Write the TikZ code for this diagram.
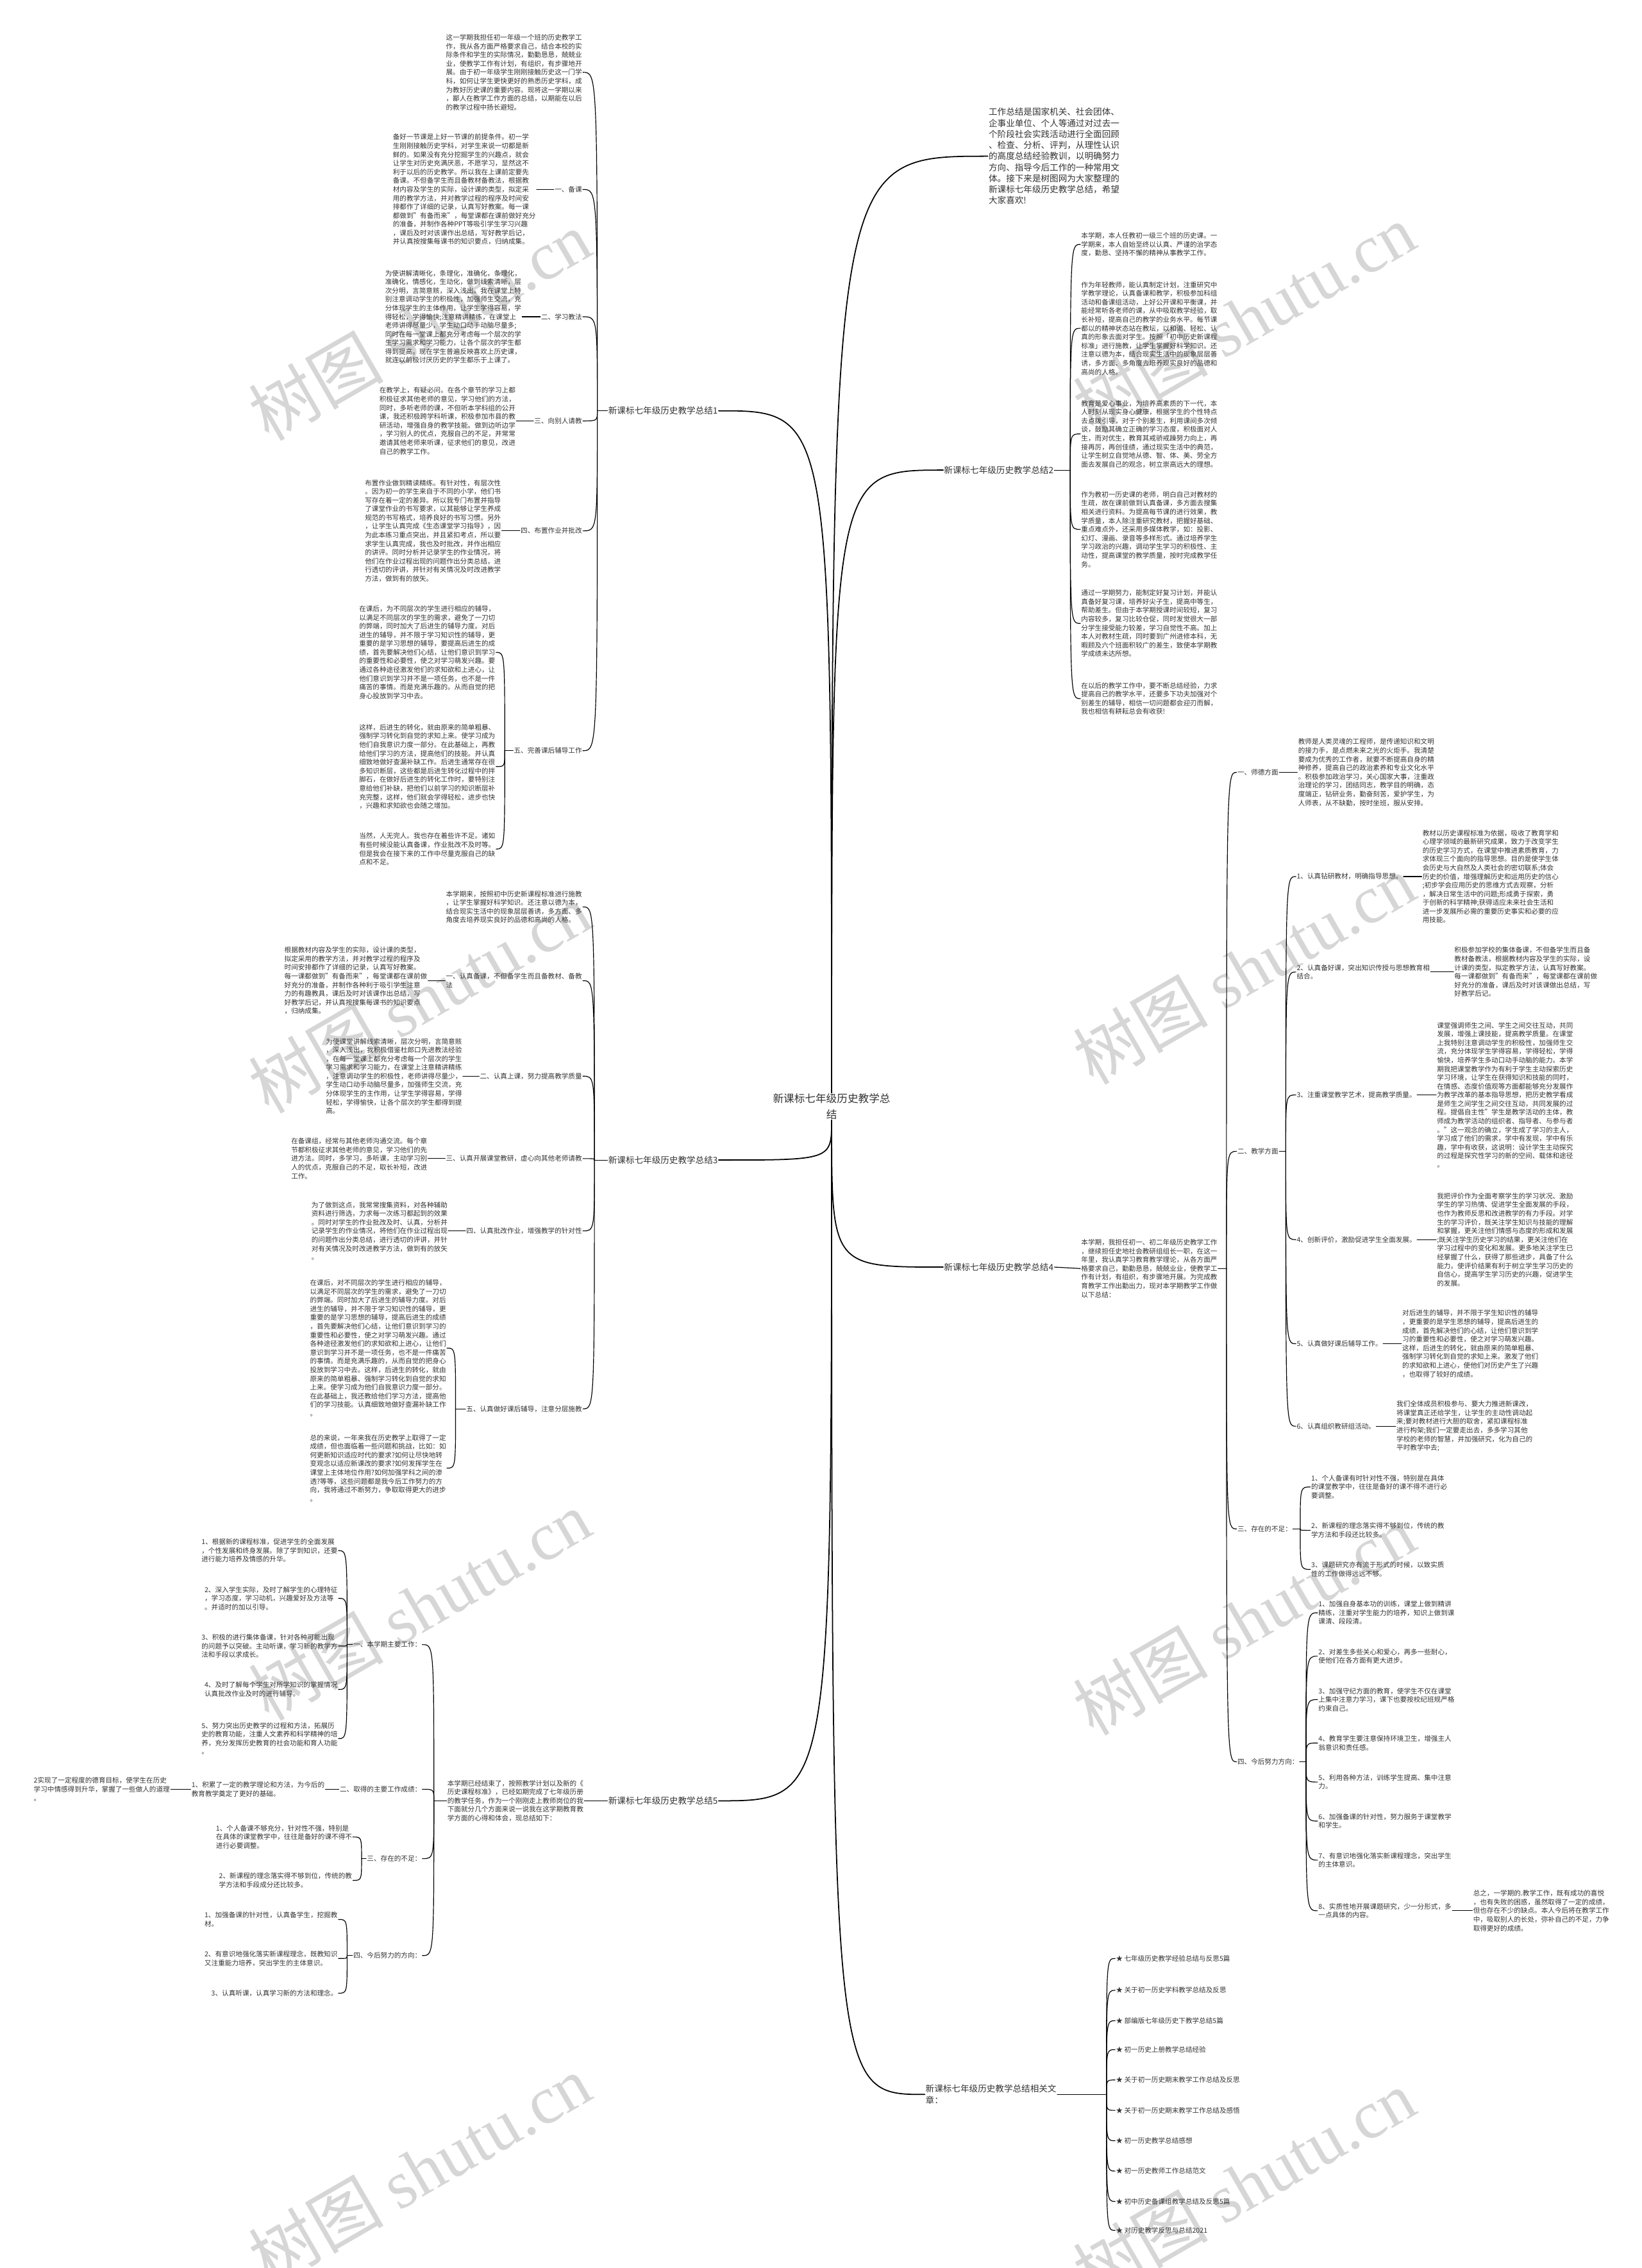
\documentclass[tikz,border=0pt]{standalone}
\usepackage{fontspec}
\setmainfont{Noto Sans CJK SC}
\newfontfamily\wmlatin{Liberation Serif}
\definecolor{txt}{HTML}{333333}
\newcommand\ptext{\fontsize{9.05pt}{11.6pt}\selectfont}
\newcommand\ttext{\fontsize{11.6pt}{14.7pt}\selectfont}
\newcommand\rtext{\fontsize{14.2pt}{21.3pt}\selectfont}
% brace hook: from a brace point to a child anchor
\newcommand\brhook[2]{\draw[link] (#1) .. controls (#1 |- #2) .. (#2);}
\tikzset{
  parabox/.style={font=\ptext, text=txt, align=left, inner sep=1pt},
  labbox/.style={font=\ptext, text=txt, align=left, inner sep=1pt},
  topicbox/.style={font=\ttext, text=txt, align=left, inner sep=1pt},
  rootbox/.style={font=\rtext, text=txt, align=center, inner sep=1pt},
  link/.style={black, line width=1pt, line cap=round},
  toplink/.style={black, line width=1.5pt, line cap=round},
  wmark/.style={text=black!16, font=\fontsize{90pt}{90pt}\selectfont, rotate=30, inner sep=0pt}
}
\begin{document}
\begin{tikzpicture}[x=0.06767cm, y=-0.06767cm]
\useasboundingbox (0,0) rectangle (1135,1568);
\fill[white] (0,0) rectangle (1135,1568);

% ====== watermarks ======
\foreach \wx/\wy [count=\i] in {290/225, 860/220, 290/690, 860/670, 290/1110, 860/1120, 290/1500, 860/1510}
  \node[wmark] (wm\i) at (\wx,\wy) {树图 {\wmlatin shutu.cn}};

% ====== root ======
\node[rootbox] (root) at (575,765) {新课标七年级历史教学总\\结};

% ====== intro ======
\node[topicbox, anchor=west] (intro) at (683,108) {工作总结是国家机关、社会团体、\\企事业单位、个人等通过对过去一\\个阶段社会实践活动进行全面回顾\\、检查、分析、评判，从理性认识\\的高度总结经验教训，以明确努力\\方向、指导今后工作的一种常用文\\体。接下来是树图网为大家整理的\\新课标七年级历史教学总结，希望\\大家喜欢!};

% ====== topics ======
\node[topicbox, anchor=west] (t1) at (420,284) {新课标七年级历史教学总结1};
\node[topicbox, anchor=east] (t2) at (729,325) {新课标七年级历史教学总结2};
\node[topicbox, anchor=west] (t3) at (420,802) {新课标七年级历史教学总结3};
\node[topicbox, anchor=east] (t4) at (729,876) {新课标七年级历史教学总结4};
\node[topicbox, anchor=west] (t5) at (420,1245) {新课标七年级历史教学总结5};
\node[topicbox, anchor=east] (t6) at (731,1448) {新课标七年级历史教学总结相关文\\章：};

\draw[toplink] (root.north) .. controls (root.north |- t1.east) .. (t1.east);
\draw[toplink] (root.north) .. controls (root.north |- intro.west) .. (intro.west);
\draw[toplink] (root.north) .. controls (root.north |- t2.west) .. (t2.west);
\draw[toplink] (root.south) .. controls (root.south |- t3.east) .. (t3.east);
\draw[toplink] (root.south) .. controls (root.south |- t4.west) .. (t4.west);
\draw[toplink] (root.south) .. controls (root.south |- t5.east) .. (t5.east);
\draw[toplink] (root.south) .. controls (root.south |- t6.west) .. (t6.west);

% ====== subtree 1 ======
\coordinate (b1) at (413,284);
\node[parabox, anchor=east] (p1a) at (403,50) {这一学期我担任初一年级一个班的历史教学工\\作，我从各方面严格要求自己，结合本校的实\\际条件和学生的实际情况，勤勤恳恳，兢兢业\\业，使教学工作有计划，有组织，有步骤地开\\展。由于初一年级学生刚刚接触历史这一门学\\科，如何让学生更快更好的熟悉历史学科，成\\为教好历史课的重要内容。现将这一学期以来\\，鄙人在教学工作方面的总结，以期能在以后\\的教学过程中扬长避短。};
\node[labbox, anchor=east] (l1b) at (403,131) {一、备课};
\node[parabox, anchor=east] (p1b) at (371,131) {备好一节课是上好一节课的前提条件。初一学\\生刚刚接触历史学科，对学生来说一切都是新\\鲜的。如果没有充分挖掘学生的兴趣点，就会\\让学生对历史充满厌恶，不愿学习，显然这不\\利于以后的历史教学。所以我在上课前定要先\\备课。不但备学生而且备教材备教法，根据教\\材内容及学生的实际，设计课的类型，拟定采\\用的教学方法，并对教学过程的程序及时间安\\排都作了详细的记录，认真写好教案。每一课\\都做到"有备而来"，每堂课都在课前做好充分\\的准备，并制作各种PPT等吸引学生学习兴趣\\，课后及时对该课作出总结，写好教学后记，\\并认真按搜集每课书的知识要点，归纳成集。};
\node[labbox, anchor=east] (l1c) at (403,219) {二、学习教法};
\node[parabox, anchor=east] (p1c) at (361,219) {为使讲解清晰化，条理化，准确化，条理化，\\准确化，情感化，生动化，做到线索清晰，层\\次分明，言简意赅，深入浅出。我在课堂上特\\别注意调动学生的积极性，加强师生交流，充\\分体现学生的主体作用，让学生学得容易，学\\得轻松，学得愉快;注意精讲精练，在课堂上\\老师讲得尽量少，学生动口动手动脑尽量多;\\同时在每一堂课上都充分考虑每一个层次的学\\生学习需求和学习能力，让各个层次的学生都\\得到提高。现在学生普遍反映喜欢上历史课，\\就连以前极讨厌历史的学生都乐于上课了。};
\node[labbox, anchor=east] (l1d) at (403,291) {三、向别人请教};
\node[parabox, anchor=east] (p1d) at (357,291) {在教学上，有疑必问。在各个章节的学习上都\\积极征求其他老师的意见，学习他们的方法，\\同时，多听老师的课，不但听本学科组的公开\\课，我还积极跨学科听课，积极参加市县的教\\研活动，增强自身的教学技能。做到边听边学\\，学习别人的优点，克服自己的不足，并常常\\邀请其他老师来听课，征求他们的意见，改进\\自己的教学工作。};
\node[labbox, anchor=east] (l1e) at (403,367) {四、布置作业并批改};
\node[parabox, anchor=east] (p1e) at (347,367) {布置作业做到精读精练。有针对性，有层次性\\。因为初一的学生来自于不同的小学，他们书\\写存在着一定的差异。所以我专门布置并指导\\了课堂作业的书写要求，以其能够让学生养成\\规范的书写格式，培养良好的书写习惯。另外\\，让学生认真完成《生态课堂学习指导》，因\\为此本练习重点突出，并且紧扣考点，所以要\\求学生认真完成，我也及时批改，并作出相应\\的讲评。同时分析并记录学生的作业情况，将\\他们在作业过程出现的问题作出分类总结，进\\行透切的评讲，并针对有关情况及时改进教学\\方法，做到有的放矢。};
\node[labbox, anchor=east] (l1f) at (403,519) {五、完善课后辅导工作};
\coordinate (b1f) at (349,519);
\node[parabox, anchor=east] (p1f1) at (343,451) {在课后，为不同层次的学生进行相应的辅导，\\以满足不同层次的学生的需求，避免了一刀切\\的弊端，同时加大了后进生的辅导力度。对后\\进生的辅导，并不限于学习知识性的辅导，更\\重要的是学习思想的辅导，要提高后进生的成\\绩，首先要解决他们心结，让他们意识到学习\\的重要性和必要性，使之对学习萌发兴趣。要\\通过各种途径激发他们的求知欲和上进心，让\\他们意识到学习并不是一项任务，也不是一件\\痛苦的事情。而是充满乐趣的。从而自觉的把\\身心投放到学习中去。};
\node[parabox, anchor=east] (p1f2) at (343,530) {这样，后进生的转化，就由原来的简单粗暴、\\强制学习转化到自觉的求知上来。使学习成为\\他们自我意识力度一部分。在此基础上，再教\\给他们学习的方法，提高他们的技能。并认真\\细致地做好查漏补缺工作。后进生通常存在很\\多知识断层，这些都是后进生转化过程中的拌\\脚石，在做好后进生的转化工作时，要特别注\\意给他们补缺，把他们以前学习的知识断层补\\充完整，这样，他们就会学得轻松，进步也快\\，兴趣和求知欲也会随之增加。};
\node[parabox, anchor=east] (p1f3) at (343,587) {当然，人无完人。我也存在着些许不足。诸如\\有些时候没能认真备课，作业批改不及时等。\\但是我会在接下来的工作中尽量克服自己的缺\\点和不足。};

\draw[link] (t1.west) -- (b1);
\brhook{b1}{p1a.east} \brhook{b1}{l1b.east} \brhook{b1}{l1c.east}
\brhook{b1}{l1d.east} \brhook{b1}{l1e.east} \brhook{b1}{l1f.east}
\draw[link] (p1b.east) -- (l1b.west);
\draw[link] (p1c.east) -- (l1c.west);
\draw[link] (p1d.east) -- (l1d.west);
\draw[link] (p1e.east) -- (l1e.west);
\draw[link] (l1f.west) -- (b1f);
\brhook{b1f}{p1f1.east} \brhook{b1f}{p1f2.east} \brhook{b1f}{p1f3.east}

% ====== subtree 2 ======
\coordinate (b2) at (740,325);
\node[parabox, anchor=west] (p2a) at (747,169) {本学期，本人任教初一级三个班的历史课。一\\学期来，本人自始至终以认真、严谨的治学态\\度，勤恳、坚持不懈的精神从事教学工作。};
\node[parabox, anchor=west] (p2b) at (747,227) {作为年轻教师，能认真制定计划，注重研究中\\学教学理论，认真备课和教学，积极参加科组\\活动和备课组活动，上好公开课和平衡课，并\\能经常听各老师的课，从中吸取教学经验，取\\长补短，提高自己的教学的业务水平。每节课\\都以的精神状态站在教坛，以和谒、轻松、认\\真的形象去面对学生。按照「初中历史新课程\\标准」进行施教，让学生掌握好科学知识。还\\注意以德为本，结合现实生活中的现象层层善\\诱，多方面、多角度去培养现实良好的品德和\\高尚的人格。};
\node[parabox, anchor=west] (p2c) at (747,300) {教育是爱心事业，为培养高素质的下一代，本\\人时刻从现实身心健康，根据学生的个性特点\\去点拨引导，对于个别差生，利用课间多次倾\\谈，鼓励其确立正确的学习态度，积极面对人\\生，而对优生，教育其戒骄戒躁努力向上，再\\接再厉，再创佳绩，通过现实生活中的典范，\\让学生树立自觉地从德、智、体、美、劳全方\\面去发展自己的观念，树立崇高远大的理想。};
\node[parabox, anchor=west] (p2d) at (747,366) {作为教初一历史课的老师，明白自己对教材的\\生疏，故在课前做到认真备课，多方面去搜集\\相关进行资料。为提高每节课的进行效果，教\\学质量，本人除注重研究教材，把握好基础、\\重点难点外，还采用多媒体教学，如：投影、\\幻灯、漫画、录音等多样形式。通过培养学生\\学习政治的兴趣，调动学生学习的积极性、主\\动性，提高课堂的教学质量，按时完成教学任\\务。};
\node[parabox, anchor=west] (p2e) at (747,431) {通过一学期努力，能制定好复习计划，并能认\\真备好复习课，培养好尖子生，提高中等生，\\帮助差生。但由于本学期授课时间较短，复习\\内容较多，复习比较仓促，同时发觉很大一部\\分学生接受能力较差，学习自觉性不高。加上\\本人对教材生疏，同时要到广州进修本科，无\\暇顾及六个班面积较广的差生，致使本学期教\\学成绩未达所想。};
\node[parabox, anchor=west] (p2f) at (747,483) {在以后的教学工作中，要不断总结经验，力求\\提高自己的教学水平，还要多下功夫加强对个\\别差生的辅导，相信一切问题都会迎刃而解，\\我也相信有耕耘总会有收获!};

\draw[link] (t2.east) -- (b2);
\brhook{b2}{p2a.west} \brhook{b2}{p2b.west} \brhook{b2}{p2c.west}
\brhook{b2}{p2d.west} \brhook{b2}{p2e.west} \brhook{b2}{p2f.west}

% ====== subtree 3 ======
\coordinate (b3) at (411,802);
\node[parabox, anchor=east] (p3a) at (403,627) {本学期来，按照初中历史新课程标准进行施教\\，让学生掌握好科学知识。还注意以德为本，\\结合现实生活中的现象层层善诱，多方面、多\\角度去培养现实良好的品德和高尚的人格。};
\node[labbox, anchor=east] (l3b) at (403,678) {一、认真备课，不但备学生而且备教材、备教\\法};
\node[parabox, anchor=east] (p3b) at (296,678) {根据教材内容及学生的实际，设计课的类型，\\拟定采用的教学方法，并对教学过程的程序及\\时间安排都作了详细的记录，认真写好教案。\\每一课都做到"有备而来"，每堂课都在课前做\\好充分的准备，并制作各种利于吸引学生注意\\力的有趣教具，课后及时对该课作出总结，写\\好教学后记，并认真按搜集每课书的知识要点\\，归纳成集。};
\node[labbox, anchor=east] (l3c) at (403,744) {二、认真上课，努力提高教学质量};
\node[parabox, anchor=east] (p3c) at (320,744) {为使课堂讲解线索清晰，层次分明，言简意赅\\，深入浅出，我积极借鉴杜郎口先进教法经验\\，在每一堂课上都充分考虑每一个层次的学生\\学习需求和学习能力，在课堂上注意精讲精练\\，注意调动学生的积极性，老师讲得尽量少，\\学生动口动手动脑尽量多，加强师生交流，充\\分体现学生的主作用，让学生学得容易，学得\\轻松，学得愉快，让各个层次的学生都得到提\\高。};
\node[labbox, anchor=east] (l3d) at (403,801) {三、认真开展课堂教研，虚心向其他老师请教};
\node[parabox, anchor=east] (p3d) at (296,801) {在备课组，经常与其他老师沟通交流。每个章\\节都积极征求其他老师的意见，学习他们的先\\进方法。同时，多学习，多听课，主动学习别\\人的优点，克服自己的不足，取长补短，改进\\工作。};
\node[labbox, anchor=east] (l3e) at (403,851) {四、认真批改作业，增强教学的针对性};
\node[parabox, anchor=east] (p3e) at (310,851) {为了做到这点，我常常搜集资料，对各种辅助\\资料进行筛选，力求每一次练习都起到的效果\\。同时对学生的作业批改及时、认真，分析并\\记录学生的作业情况，将他们在作业过程出现\\的问题作出分类总结，进行透切的评讲，并针\\对有关情况及时改进教学方法，做到有的放矢\\。};
\node[labbox, anchor=east] (l3f) at (403,974) {五、认真做好课后辅导，注意分层施教};
\coordinate (b3f) at (315,974);
\node[parabox, anchor=east] (p3f1) at (309,932) {在课后，对不同层次的学生进行相应的辅导，\\以满足不同层次的学生的需求，避免了一刀切\\的弊端。同时加大了后进生的辅导力度。对后\\进生的辅导，并不限于学习知识性的辅导，更\\重要的是学习思想的辅导，提高后进生的成绩\\，首先要解决他们心结，让他们意识到学习的\\重要性和必要性，使之对学习萌发兴趣。通过\\各种途径激发他们的求知欲和上进心，让他们\\意识到学习并不是一项任务，也不是一件痛苦\\的事情。而是充满乐趣的，从而自觉的把身心\\投放到学习中去。这样，后进生的转化，就由\\原来的简单粗暴、强制学习转化到自觉的求知\\上来。使学习成为他们自我意识力度一部分。\\在此基础上，我还教给他们学习方法，提高他\\们的学习技能。认真细致地做好查漏补缺工作\\。};
\node[parabox, anchor=east] (p3f2) at (309,1015) {总的来说，一年来我在历史教学上取得了一定\\成绩，但也面临着一些问题和挑战，比如：如\\何更新知识适应时代的要求?如何让尽快地转\\变观念以适应新课改的要求?如何发挥学生在\\课堂上主体地位作用?如何加强学科之间的渗\\透?等等，这些问题都是我今后工作努力的方\\向，我将通过不断努力，争取取得更大的进步\\。};

\draw[link] (t3.west) -- (b3);
\brhook{b3}{p3a.east} \brhook{b3}{l3b.east} \brhook{b3}{l3c.east}
\brhook{b3}{l3d.east} \brhook{b3}{l3e.east} \brhook{b3}{l3f.east}
\draw[link] (p3b.east) -- (l3b.west);
\draw[link] (p3c.east) -- (l3c.west);
\draw[link] (p3d.east) -- (l3d.west);
\draw[link] (p3e.east) -- (l3e.west);
\draw[link] (l3f.west) -- (b3f);
\brhook{b3f}{p3f1.east} \brhook{b3f}{p3f2.east}

% ====== subtree 4 ======
\node[parabox, anchor=west] (p4) at (747,877) {本学期，我担任初一、初二年级历史教学工作\\，继续担任史地社会教研组组长一职，在这一\\年里，我认真学习教育教学理论，从各方面严\\格要求自己，勤勤恳恳，兢兢业业，使教学工\\作有计划，有组织，有步骤地开展。为完成教\\育教学工作出勤出力，现对本学期教学工作做\\以下总结：};
\coordinate (b4) at (848,877);
\node[labbox, anchor=west] (l4a) at (855,534) {一、师德方面};
\node[parabox, anchor=west] (p4a) at (897,534) {教师是人类灵魂的工程师，是传递知识和文明\\的接力手，是点燃未来之光的火炬手。我清楚\\要成为优秀的工作者，就要不断提高自身的精\\神修养，提高自己的政治素养和专业文化水平\\。积极参加政治学习，关心国家大事，注重政\\治理论的学习，团结同志，教学目的明确，态\\度端正，钻研业务，勤奋刻苦，爱护学生，为\\人师表，从不缺勤，按时坐班，服从安排。};
\node[labbox, anchor=west] (l4b) at (855,796) {二、教学方面};
\coordinate (b4b) at (889,796);
\node[labbox, anchor=west] (l4b1) at (896,606) {1、认真钻研教材，明确指导思想。};
\node[parabox, anchor=west] (q4b1) at (983,606) {教材以历史课程标准为依据，吸收了教育学和\\心理学领域的最新研究成果，致力于改变学生\\的历史学习方式，在课堂中推进素质教育，力\\求体现三个面向的指导思想。目的是使学生体\\会历史与大自然及人类社会的密切联系;体会\\历史的价值，增强理解历史和运用历史的信心\\;初步学会应用历史的思维方式去观察，分析\\，解决日常生活中的问题;形成勇于探索，勇\\于创新的科学精神;获得适应未来社会生活和\\进一步发展所必需的重要历史事实和必要的应\\用技能。};
\node[labbox, anchor=west] (l4b2) at (896,672) {2、认真备好课，突出知识传授与思想教育相\\结合。};
\node[parabox, anchor=west] (q4b2) at (1005,672) {积极参加学校的集体备课，不但备学生而且备\\教材备教法，根据教材内容及学生的实际，设\\计课的类型，拟定教学方法，认真写好教案。\\每一课都做到"有备而来"，每堂课都在课前做\\好充分的准备，课后及时对该课做出总结，写\\好教学后记。};
\node[labbox, anchor=west] (l4b3) at (896,757) {3、注重课堂教学艺术，提高教学质量。};
\node[parabox, anchor=west] (q4b3) at (993,757) {课堂强调师生之间、学生之间交往互动，共同\\发展，增强上课技能，提高教学质量。在课堂\\上我特别注意调动学生的积极性，加强师生交\\流，充分体现学生学得容易，学得轻松，学得\\愉快，培养学生多动口动手动脑的能力。本学\\期我把课堂教学作为有利于学生主动探索历史\\学习环境，让学生在获得知识和技能的同时，\\在情感、态度价值观等方面都能够充分发展作\\为教学改革的基本指导思想，把历史教学看成\\是师生之间学生之间交往互动，共同发展的过\\程。提倡自主性"学生是教学活动的主体，教\\师成为教学活动的组织者、指导者、与参与者\\。"这一观念的确立，学生成了学习的主人，\\学习成了他们的需求，学中有发现，学中有乐\\趣，学中有收获，这说明：设计学生主动探究\\的过程是探究性学习的新的空间、载体和途径\\。};
\node[labbox, anchor=west] (l4b4) at (896,857) {4、创新评价，激励促进学生全面发展。};
\node[parabox, anchor=west] (q4b4) at (993,857) {我把评价作为全面考察学生的学习状况、激励\\学生的学习热情、促进学生全面发展的手段，\\也作为教师反思和改进教学的有力手段。对学\\生的学习评价，既关注学生知识与技能的理解\\和掌握，更关注他们情感与态度的形成和发展\\;既关注学生历史学习的结果，更关注他们在\\学习过程中的变化和发展。更多地关注学生已\\经掌握了什么，获得了那些进步，具备了什么\\能力。使评价结果有利于树立学生学习历史的\\自信心，提高学生学习历史的兴趣，促进学生\\的发展。};
\node[labbox, anchor=west] (l4b5) at (896,929) {5、认真做好课后辅导工作。};
\node[parabox, anchor=west] (q4b5) at (969,929) {对后进生的辅导，并不限于学生知识性的辅导\\，更重要的是学生思想的辅导，提高后进生的\\成绩，首先解决他们的心结，让他们意识到学\\习的重要性和必要性，使之对学习萌发兴趣。\\这样，后进生的转化，就由原来的简单粗暴、\\强制学习转化到自觉的求知上来。激发了他们\\的求知欲和上进心，使他们对历史产生了兴趣\\，也取得了较好的成绩。};
\node[labbox, anchor=west] (l4b6) at (896,986) {6、认真组织教研组活动。};
\node[parabox, anchor=west] (q4b6) at (965,986) {我们全体成员积极参与、要大力推进新课改，\\将课堂真正还给学生，让学生的主动性调动起\\来;要对教材进行大胆的取舍，紧扣课程标准\\进行构架;我们一定要走出去，多多学习其他\\学校的老师的智慧，并加强研究，化为自己的\\平时教学中去;};
\node[labbox, anchor=west] (l4c) at (855,1057) {三、存在的不足：};
\coordinate (b4c) at (899,1057);
\node[parabox, anchor=west] (l4c1) at (906,1028) {1、个人备课有时针对性不强，特别是在具体\\的课堂教学中，往往是备好的课不得不进行必\\要调整。};
\node[parabox, anchor=west] (l4c2) at (906,1058) {2、新课程的理念落实得不够到位，传统的教\\学方法和手段还比较多。};
\node[parabox, anchor=west] (l4c3) at (906,1085) {3、课题研究亦有流于形式的时候，以致实质\\性的工作做得远远不够。};
\node[labbox, anchor=west] (l4d) at (855,1218) {四、今后努力方向：};
\coordinate (b4d) at (903,1218);
\node[parabox, anchor=west] (l4d1) at (911,1115) {1、加强自身基本功的训练，课堂上做到精讲\\精练，注重对学生能力的培养，知识上做到课\\课清、段段清。};
\node[parabox, anchor=west] (l4d2) at (911,1145) {2、对差生多些关心和爱心，再多一些耐心，\\使他们在各方面有更大进步。};
\node[parabox, anchor=west] (l4d3) at (911,1175) {3、加强守纪方面的教育，使学生不仅在课堂\\上集中注意力学习，课下也要按校纪班规严格\\约束自己。};
\node[parabox, anchor=west] (l4d4) at (911,1205) {4、教育学生要注意保持环境卫生，增强主人\\翁意识和责任感。};
\node[parabox, anchor=west] (l4d5) at (911,1232) {5、利用各种方法，训练学生提高、集中注意\\力。};
\node[parabox, anchor=west] (l4d6) at (911,1259) {6、加强备课的针对性，努力服务于课堂教学\\和学生。};
\node[parabox, anchor=west] (l4d7) at (911,1286) {7、有意识地强化落实新课程理念，突出学生\\的主体意识。};
\node[parabox, anchor=west] (l4d8) at (911,1321) {8、实质性地开展课题研究，少一分形式，多\\一点具体的内容。};
\node[parabox, anchor=west] (q4d8) at (1018,1321) {总之，一学期的.教学工作，既有成功的喜悦\\，也有失败的困惑，虽然取得了一定的成绩，\\但也存在不少的缺点。本人今后将在教学工作\\中，吸取别人的长处，弥补自己的不足，力争\\取得更好的成绩。};

\draw[link] (t4.east) -- (p4.west);
\draw[link] (p4.east) -- (b4);
\brhook{b4}{l4a.west} \brhook{b4}{l4b.west} \brhook{b4}{l4c.west} \brhook{b4}{l4d.west}
\draw[link] (l4a.east) -- (p4a.west);
\draw[link] (l4b.east) -- (b4b);
\foreach \k in {1,...,6} {
  \brhook{b4b}{l4b\k.west}
  \draw[link] (l4b\k.east |- q4b\k.west) -- (q4b\k.west);
}
\draw[link] (l4c.east) -- (b4c);
\foreach \k in {1,2,3} { \brhook{b4c}{l4c\k.west} }
\draw[link] (l4d.east) -- (b4d);
\foreach \k in {1,...,8} { \brhook{b4d}{l4d\k.west} }
\draw[link] (l4d8.east) -- (q4d8.west);

% ====== subtree 5 ======
\node[parabox, anchor=east] (p5) at (404,1245) {本学期已经结束了，按照教学计划以及新的《\\历史课程标准》，已经如期完成了七年级历册\\的教学任务，作为一个刚刚走上教师岗位的我\\下面就分几个方面来说一说我在这学期教育教\\学方面的心得和体会，现总结如下：};
\coordinate (b5) at (300,1245);
\node[labbox, anchor=east] (l5a) at (292,1137) {一、本学期主要工作：};
\coordinate (b5a) at (240,1137);
\node[parabox, anchor=east] (l5a1) at (234,1072) {1、根据新的课程标准，促进学生的全面发展\\，个性发展和终身发展。除了学到知识，还要\\进行能力培养及情感的升华。};
\node[parabox, anchor=east] (l5a2) at (234,1105) {2、深入学生实际，及时了解学生的心理特征\\，学习态度，学习动机，兴趣爱好及方法等\\。并适时的加以引导。};
\node[parabox, anchor=east] (l5a3) at (234,1138) {3、积极的进行集体备课，针对各种可能出现\\的问题予以突破。主动听课，学习新的教学方\\法和手段以求成长。};
\node[parabox, anchor=east] (l5a4) at (234,1168) {4、及时了解每个学生对所学知识的掌握情况\\认真批改作业及时的进行辅导。};
\node[parabox, anchor=east] (l5a5) at (234,1202) {5、努力突出历史教学的过程和方法，拓展历\\史的教育功能，注重人文素养和科学精神的培\\养，充分发挥历史教育的社会功能和育人功能\\。};
\node[labbox, anchor=east] (l5b) at (292,1237) {二、取得的主要工作成绩：};
\node[parabox, anchor=east] (l5b1) at (225,1237) {1、积累了一定的教学理论和方法，为今后的\\教育教学奠定了更好的基础。};
\node[parabox, anchor=east] (l5b2) at (118,1237) {2实现了一定程度的德育目标，使学生在历史\\学习中情感得到升华，掌握了一些做人的道理\\。};
\node[labbox, anchor=east] (l5c) at (292,1285) {三、存在的不足：};
\coordinate (b5c) at (250,1285);
\node[parabox, anchor=east] (l5c1) at (244,1270) {1、个人备课不够充分，针对性不强，特别是\\在具体的课堂教学中，往往是备好的课不得不\\进行必要调整。};
\node[parabox, anchor=east] (l5c2) at (244,1300) {2、新课程的理念落实得不够到位，传统的教\\学方法和手段成分还比较多。};
\node[labbox, anchor=east] (l5d) at (292,1352) {四、今后努力的方向：};
\coordinate (b5d) at (240,1352);
\node[parabox, anchor=east] (l5d1) at (234,1327) {1、加强备课的针对性，认真备学生，挖掘教\\材。};
\node[parabox, anchor=east] (l5d2) at (234,1354) {2、有意识地强化落实新课程理念，既教知识\\又注重能力培养，突出学生的主体意识。};
\node[parabox, anchor=east] (l5d3) at (234,1378) {3、认真听课，认真学习新的方法和理念。};

\draw[link] (t5.west) -- (p5.east);
\draw[link] (p5.west) -- (b5);
\brhook{b5}{l5a.east} \brhook{b5}{l5b.east} \brhook{b5}{l5c.east} \brhook{b5}{l5d.east}
\draw[link] (l5a.west) -- (b5a);
\foreach \k in {1,...,5} { \brhook{b5a}{l5a\k.east} }
\draw[link] (l5b.west) -- (l5b1.east);
\draw[link] (l5b1.west) -- (l5b2.east);
\draw[link] (l5c.west) -- (b5c);
\brhook{b5c}{l5c1.east} \brhook{b5c}{l5c2.east}
\draw[link] (l5d.west) -- (b5d);
\foreach \k in {1,2,3} { \brhook{b5d}{l5d\k.east} }

% ====== subtree 6 ======
\coordinate (b6) at (765,1448);
\foreach \ry/\rt [count=\k] in {1354/七年级历史教学经验总结与反思5篇, 1376/关于初一历史学科教学总结及反思, 1397/部编版七年级历史下教学总结5篇, 1417/初一历史上册教学总结经验, 1438/关于初一历史期末教学工作总结及反思, 1459/关于初一历史期末教学工作总结及感悟, 1480/初一历史教学总结感想, 1501/初一历史教师工作总结范文, 1522/初中历史备课组教学总结及反思5篇, 1542/对历史教学反思与总结2021}
  \node[labbox, anchor=west] (r\k) at (771,\ry) {★ \rt};
\draw[link] (t6.east) -- (b6);
\foreach \k in {1,...,10} { \brhook{b6}{r\k.west} }
\end{tikzpicture}
\end{document}
